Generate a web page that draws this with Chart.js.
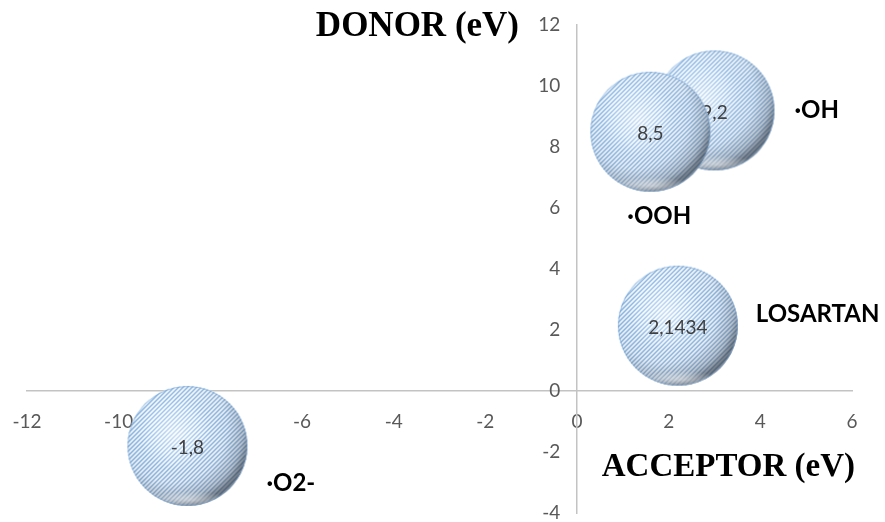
<!DOCTYPE html>
<html>
<head>
<meta charset="utf-8">
<script src="https://cdn.jsdelivr.net/npm/chart.js@4"></script>
<style>
  html, body { margin: 0; padding: 0; background: #ffffff; }
  #wrap { width: 885px; height: 522px; position: relative; }
</style>
</head>
<body>
<div id="wrap"><canvas id="chart"></canvas></div>
<script>
// Species and their acceptor / donor energies (eV)
const seriesNames = ['LOSARTAN', '\u00B7OOH', '\u00B7OH', '\u00B7O2-'];
const acceptor = [2.2, 1.6, 3.0, -8.5];
const donor = [2.1434, 8.5, 9.2, -1.8];

const xTicks = [-12, -10, -8, -6, -4, -2, 0, 2, 4, 6];
const yTicks = [-4, -2, 0, 2, 4, 6, 8, 10, 12];

const xTitle = 'ACCEPTOR (eV)';
const yTitle = 'DONOR (eV)';

// ---- styling ----
const BUBBLE_R = 60;
const AXIS_COLOR = '#c3c3c3';
const TICK_COLOR = '#595959';
const tickFont = { family: 'Lato', size: 19 };
// gap between the crossing y axis and its right-aligned labels
const Y_LABEL_GAP = '\u2003\u2009';

// offsets of each species name from its bubble centre (left edge, middle)
const nameOffset = {
  'LOSARTAN': [78, -11],
  '\u00B7OOH': [-23, 85],
  '\u00B7OH': [80, 0],
  '\u00B7O2-': [79, 37]
};

// Shaded, hatched sphere sprite used as the bubble point style
function makeSphere(r) {
  const pad = 3;
  const size = 2 * r + 2 * pad;
  const raw = document.createElement('canvas');
  raw.width = raw.height = size;
  const g = raw.getContext('2d');
  const cx = size / 2, cy = size / 2;

  g.save();
  g.beginPath();
  g.arc(cx, cy, r, 0, Math.PI * 2);
  g.clip();

  g.fillStyle = '#ffffff';
  g.fillRect(0, 0, size, size);

  // diagonal hatch
  g.strokeStyle = '#7cb0e4';
  g.lineWidth = 1.25;
  for (let k = -size; k < 2 * size; k += 4.5) {
    g.beginPath();
    g.moveTo(k, size);
    g.lineTo(k + size, 0);
    g.stroke();
  }

  // body shading: light from the upper left, grey towards the lower right
  let grad = g.createRadialGradient(cx - 0.25 * r, cy - 0.3 * r, r * 0.4, cx - 0.25 * r, cy - 0.3 * r, r * 1.32);
  grad.addColorStop(0, 'rgba(70,80,95,0)');
  grad.addColorStop(0.55, 'rgba(70,80,95,0.08)');
  grad.addColorStop(0.85, 'rgba(60,68,80,0.3)');
  grad.addColorStop(1, 'rgba(45,52,62,0.62)');
  g.fillStyle = grad;
  g.fillRect(0, 0, size, size);

  // central highlight
  grad = g.createRadialGradient(cx - 0.2 * r, cy - 0.2 * r, 0, cx - 0.2 * r, cy - 0.2 * r, r * 0.6);
  grad.addColorStop(0, 'rgba(255,255,255,0.5)');
  grad.addColorStop(1, 'rgba(255,255,255,0)');
  g.fillStyle = grad;
  g.fillRect(0, 0, size, size);

  // reflection just inside the lower edge
  g.save();
  g.translate(cx + 0.05 * r, cy + 0.9 * r);
  g.scale(1, 0.2);
  grad = g.createRadialGradient(0, 0, 0, 0, 0, r * 0.7);
  grad.addColorStop(0, 'rgba(255,255,255,0.5)');
  grad.addColorStop(1, 'rgba(255,255,255,0)');
  g.fillStyle = grad;
  g.fillRect(-r, -r, 2 * r, 2 * r);
  g.restore();

  g.restore();

  // thin light-blue outline
  g.beginPath();
  g.arc(cx, cy, r - 0.5, 0, Math.PI * 2);
  g.strokeStyle = 'rgba(110,160,215,0.55)';
  g.lineWidth = 1;
  g.stroke();

  // slight softening
  const c = document.createElement('canvas');
  c.width = c.height = size;
  const g2 = c.getContext('2d');
  g2.filter = 'blur(0.6px)';
  g2.drawImage(raw, 0, 0);
  return c;
}

const sphere = makeSphere(BUBBLE_R);

const fmt = v => String(v).replace('.', ',');

// the sprite carries the visible size; the element radius stays tiny so the
// layout does not reserve overflow room around the plot area
const datasets = seriesNames.map((name, i) => ({
  label: name,
  data: [{ x: acceptor[i], y: donor[i] }],
  radius: 1,
  pointStyle: sphere,
  backgroundColor: 'rgba(0,0,0,0)',
  borderWidth: 0,
  clip: false
}));

// value label in each bubble, drawn right after its own bubble
const valueLabels = {
  id: 'valueLabels',
  afterDatasetDraw(chart, args) {
    const i = args.index;
    const el = args.meta.data[0];
    const ctx = chart.ctx;
    ctx.save();
    ctx.font = '19px Lato';
    ctx.fillStyle = '#404040';
    ctx.textAlign = 'center';
    ctx.textBaseline = 'middle';
    ctx.fillText(fmt(donor[i]), el.x, el.y + 2);
    ctx.restore();
  }
};

// species names and axis titles
const annotations = {
  id: 'annotations',
  afterDatasetsDraw(chart) {
    const ctx = chart.ctx;
    const xs = chart.scales.x, ys = chart.scales.y;
    ctx.save();
    ctx.fillStyle = '#000000';
    ctx.textBaseline = 'middle';
    ctx.textAlign = 'left';
    ctx.font = 'bold 24px Lato';
    chart.data.datasets.forEach((ds, i) => {
      const el = chart.getDatasetMeta(i).data[0];
      const off = nameOffset[ds.label];
      ctx.fillText(ds.label, el.x + off[0], el.y + off[1]);
    });

    ctx.textAlign = 'right';
    ctx.font = 'bold 35px "Liberation Serif"';
    ctx.fillText(yTitle, xs.getPixelForValue(0) - 58, ys.getPixelForValue(12) + 2);
    ctx.font = 'bold 33px "Liberation Serif"';
    ctx.fillText(xTitle, xs.right + 3, ys.getPixelForValue(-2.5));
    ctx.restore();
  }
};

// axes crossing inside the plot should not push the plot area inwards
const noScalePadding = s => {
  s.paddingTop = s.paddingBottom = s.paddingLeft = s.paddingRight = 0;
};

new Chart(document.getElementById('chart'), {
  type: 'bubble',
  data: { datasets },
  options: {
    responsive: true,
    maintainAspectRatio: false,
    animation: false,
    layout: { padding: { left: 27, right: 33, top: 25, bottom: 9 } },
    plugins: {
      legend: { display: false },
      tooltip: { enabled: false }
    },
    scales: {
      x: {
        type: 'linear',
        position: { y: 0 },
        min: xTicks[0],
        max: xTicks[xTicks.length - 1],
        afterBuildTicks: s => { s.ticks = xTicks.map(v => ({ value: v })); },
        afterFit: noScalePadding,
        grid: { display: false, drawTicks: false },
        border: { display: true, color: AXIS_COLOR, width: 1.5 },
        ticks: {
          font: tickFont, color: TICK_COLOR, padding: 19,
          maxRotation: 0, autoSkip: false,
          callback: v => String(v)
        }
      },
      y: {
        type: 'linear',
        position: { x: 0 },
        min: yTicks[0],
        max: yTicks[yTicks.length - 1],
        afterBuildTicks: s => { s.ticks = yTicks.map(v => ({ value: v })); },
        afterFit: noScalePadding,
        grid: { display: false, drawTicks: false },
        border: { display: true, color: AXIS_COLOR, width: 1.5 },
        ticks: {
          font: tickFont, color: TICK_COLOR, padding: 0,
          autoSkip: false,
          callback: v => String(v) + Y_LABEL_GAP
        }
      }
    }
  },
  plugins: [valueLabels, annotations]
});
</script>
</body>
</html>
